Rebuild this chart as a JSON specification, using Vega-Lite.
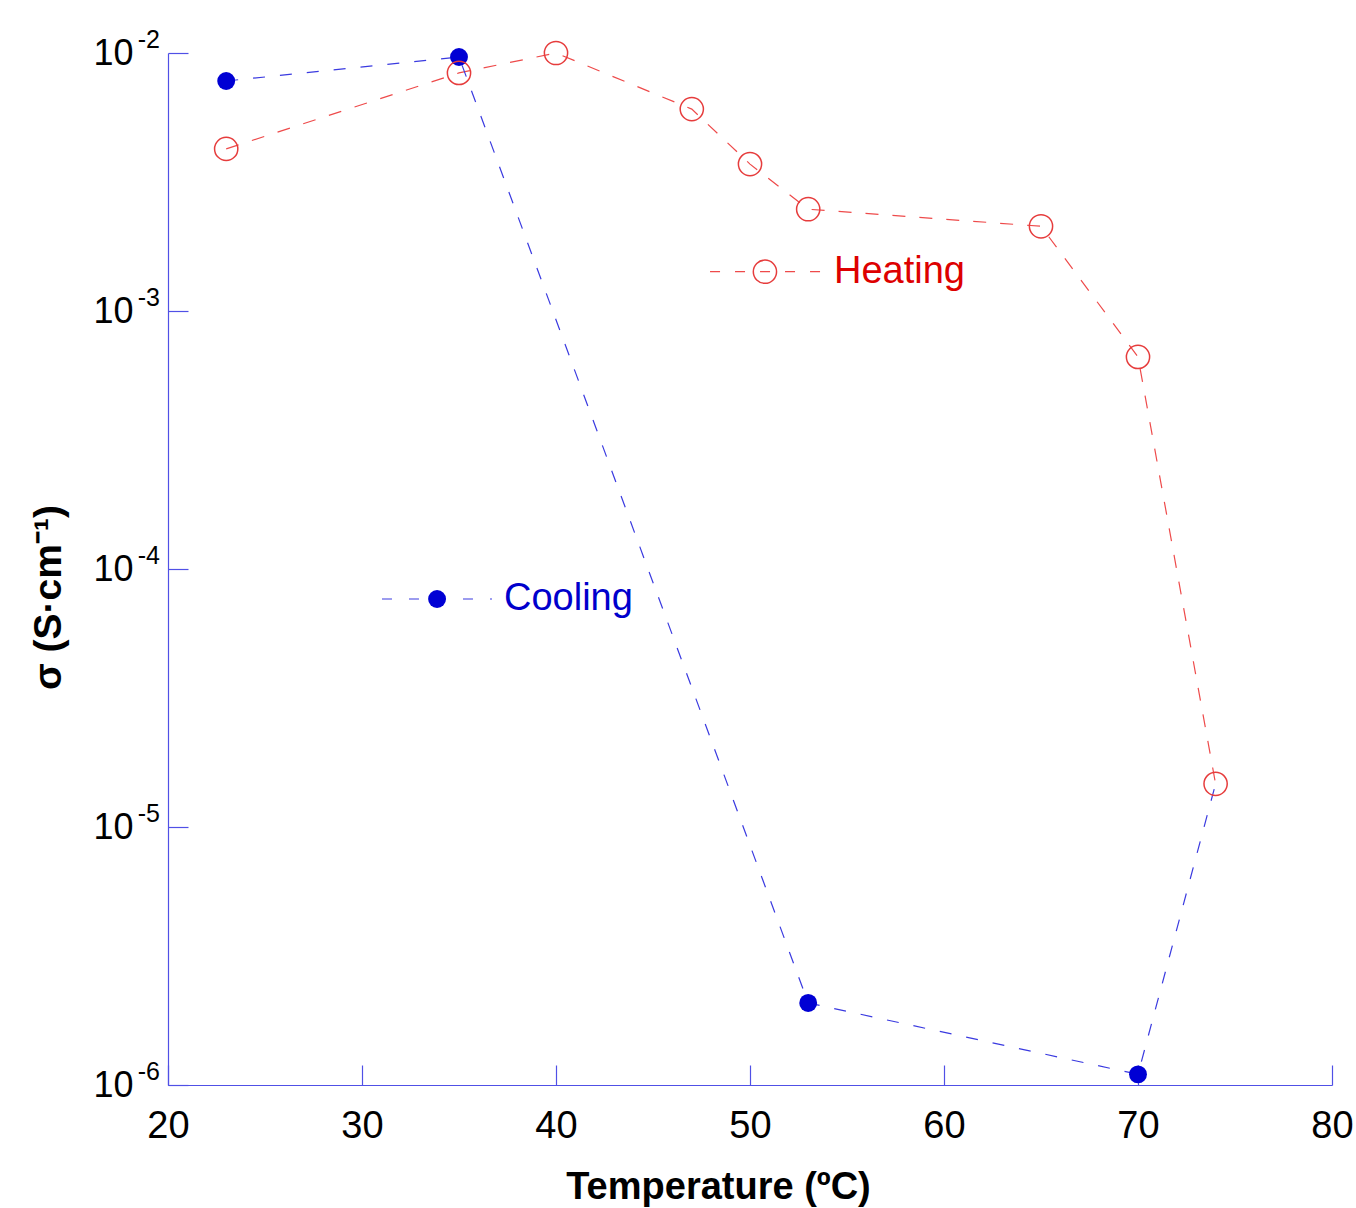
{
  "$schema": "https://vega.github.io/schema/vega-lite/v6.json",
  "width": 1164,
  "height": 1032,
  "autosize": "none",
  "padding": {"left": 168, "top": 53, "right": 24, "bottom": 123},
  "background": "white",
  "config": {"view": {"stroke": null}, "font": "Liberation Sans"},
  "datasets": {
    "heating": [
      {"T": 23, "sigma": 0.00425},
      {"T": 35, "sigma": 0.00837},
      {"T": 40, "sigma": 0.0100},
      {"T": 47, "sigma": 0.00606},
      {"T": 50, "sigma": 0.00371},
      {"T": 53, "sigma": 0.00248},
      {"T": 65, "sigma": 0.00213},
      {"T": 70, "sigma": 0.000664},
      {"T": 74, "sigma": 0.0000147}
    ],
    "cooling": [
      {"T": 23, "sigma": 0.00779, "measured": true},
      {"T": 35, "sigma": 0.00965, "measured": true},
      {"T": 53, "sigma": 0.00000208, "measured": true},
      {"T": 70, "sigma": 0.00000110, "measured": true},
      {"T": 74, "sigma": 0.0000147, "measured": false}
    ],
    "legend": [
      {"series": "Heating", "T": 47.94, "T2": 53.61, "Tmark": 50.77, "Ttext": 54.33, "sigma": 0.00142},
      {"series": "Cooling", "T": 31.03, "T2": 36.7, "Tmark": 33.87, "Ttext": 37.32, "sigma": 0.0000765}
    ],
    "decades": [
      {"T": 20, "sigma": 0.000001, "exponent": "-6"},
      {"T": 20, "sigma": 0.00001, "exponent": "-5"},
      {"T": 20, "sigma": 0.0001, "exponent": "-4"},
      {"T": 20, "sigma": 0.001, "exponent": "-3"},
      {"T": 20, "sigma": 0.01, "exponent": "-2"}
    ]
  },
  "encoding": {
    "x": {
      "field": "T", "type": "quantitative",
      "scale": {"domain": [20, 80], "nice": false, "zero": false},
      "axis": {
        "values": [20, 30, 40, 50, 60, 70, 80], "format": "d", "grid": false, "labelFlush": false,
        "domainColor": "#5050e6", "tickColor": "#5050e6", "domainWidth": 1.2, "tickWidth": 1.2,
        "tickSize": -20, "labelPadding": 42, "labelFontSize": 38, "labelColor": "black",
        "title": "Temperature (ºC)", "titleFontSize": 38, "titleFontWeight": "bold", "titleColor": "black",
        "titlePadding": 23, "titleX": 550
      }
    },
    "y": {
      "field": "sigma", "type": "quantitative",
      "scale": {"type": "log", "domain": [0.000001, 0.01], "nice": false},
      "axis": {
        "values": [0.000001, 0.00001, 0.0001, 0.001, 0.01], "grid": false, "labelFlush": false,
        "labelExpr": "'10'",
        "domainColor": "#5050e6", "tickColor": "#5050e6", "domainWidth": 1.2, "tickWidth": 1.2,
        "tickSize": -20, "labelPadding": 55, "labelFontSize": 36, "labelColor": "black",
        "title": "σ (S·cm⁻¹)", "titleFontSize": 39, "titleFontWeight": "bold", "titleColor": "black",
        "titlePadding": 24, "titleY": 544
      }
    }
  },
  "layer": [
    {
      "data": {"name": "heating"},
      "mark": {"type": "line", "color": "#ee4a4a", "strokeDash": [13, 14], "strokeWidth": 1.2}
    },
    {
      "data": {"name": "cooling"},
      "mark": {"type": "line", "color": "#3a3ae0", "strokeDash": [12, 15], "strokeWidth": 1.2}
    },
    {
      "data": {"name": "cooling"},
      "transform": [{"filter": "datum.measured"}],
      "mark": {"type": "point", "shape": "circle", "filled": true, "color": "#0000d4", "opacity": 1, "size": 320}
    },
    {
      "data": {"name": "heating"},
      "mark": {"type": "point", "shape": "circle", "filled": false, "color": "#e63c3c", "opacity": 1, "size": 540, "strokeWidth": 1.5}
    },
    {
      "data": {"name": "decades"},
      "mark": {"type": "text", "color": "black", "fontSize": 25, "align": "right", "baseline": "middle", "dx": -8, "dy": -13, "clip": false},
      "encoding": {"text": {"field": "exponent", "type": "nominal"}}
    },
    {
      "data": {"name": "legend"},
      "transform": [{"filter": "datum.series == 'Heating'"}],
      "mark": {"type": "rule", "color": "#ee4a4a", "strokeDash": [10, 15], "strokeWidth": 1.2},
      "encoding": {"x2": {"field": "T2"}}
    },
    {
      "data": {"name": "legend"},
      "transform": [{"filter": "datum.series == 'Heating'"}],
      "mark": {"type": "point", "shape": "circle", "filled": false, "color": "#e63c3c", "opacity": 1, "size": 540, "strokeWidth": 1.5},
      "encoding": {"x": {"field": "Tmark", "type": "quantitative"}}
    },
    {
      "data": {"name": "legend"},
      "transform": [{"filter": "datum.series == 'Heating'"}],
      "mark": {"type": "text", "color": "#dd0000", "fontSize": 38, "align": "left", "baseline": "middle"},
      "encoding": {"x": {"field": "Ttext", "type": "quantitative"}, "text": {"field": "series"}}
    },
    {
      "data": {"name": "legend"},
      "transform": [{"filter": "datum.series == 'Cooling'"}],
      "mark": {"type": "rule", "color": "#3a3ae0", "strokeDash": [10, 17], "strokeWidth": 1.2},
      "encoding": {"x2": {"field": "T2"}}
    },
    {
      "data": {"name": "legend"},
      "transform": [{"filter": "datum.series == 'Cooling'"}],
      "mark": {"type": "point", "shape": "circle", "filled": true, "color": "#0000d4", "opacity": 1, "size": 320},
      "encoding": {"x": {"field": "Tmark", "type": "quantitative"}}
    },
    {
      "data": {"name": "legend"},
      "transform": [{"filter": "datum.series == 'Cooling'"}],
      "mark": {"type": "text", "color": "#0000cc", "fontSize": 38, "align": "left", "baseline": "middle"},
      "encoding": {"x": {"field": "Ttext", "type": "quantitative"}, "text": {"field": "series"}}
    }
  ]
}
